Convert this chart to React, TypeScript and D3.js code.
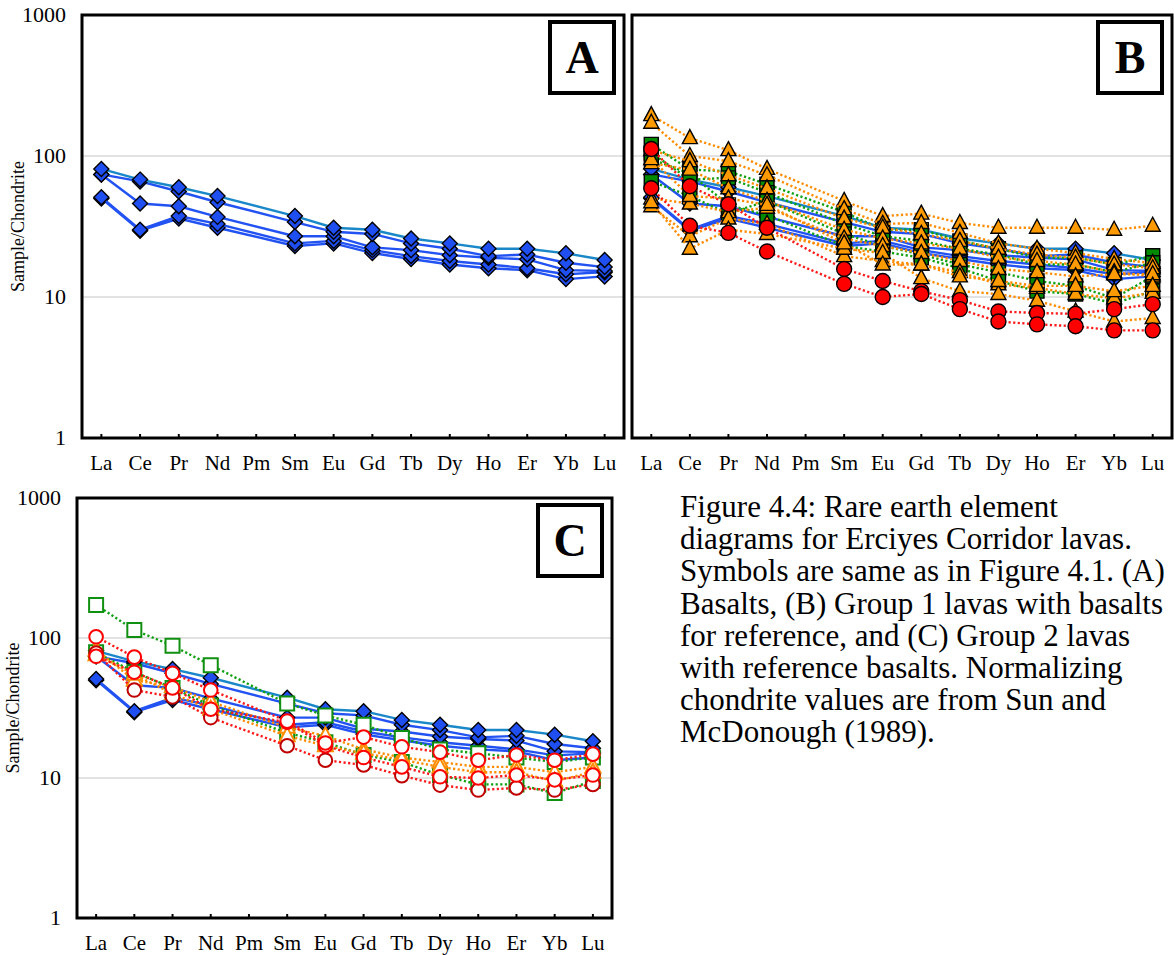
import React from "react";
import * as d3 from "d3";

// Rare earth elements, chondrite-normalised (Sun & McDonough 1989)
const ELEMENTS = ["La", "Ce", "Pr", "Nd", "Pm", "Sm", "Eu", "Gd", "Tb", "Dy", "Ho", "Er", "Yb", "Lu"];
const Y_TICKS = [1, 10, 100, 1000];

// Basalts (reference group, shown in every panel)
const basalt1 = [81, 68, 60, 52, null, 37.5, 31, 30, 26, 24, 22, 22, 20.4, 18.3];
const basalt2 = [74, 66, 56, 47, null, 34, 29, 28, 24, 22, 19.5, 20, 17.5, 16.3];
const basalt3 = [74, 46, 44, 37, null, 27, 27, 22.5, 21.5, 19.8, 19, 18.5, 15.5, 15.3];
const basalt4 = [51, 30, 37.5, 33, null, 24, 25, 21.5, 19.5, 18, 17, 16, 14.5, 15];
const basalt5 = [50, 29.5, 36, 31, null, 23, 24, 20.5, 18.6, 17, 16, 15.5, 13.4, 14];

// Group 1 lavas
const g1Green1 = [121, 80, 78, 63, null, 40, 30, 30, 25, 22, 19, 19, 17, 19.6];
const g1Green2 = [105, 68, 70, 55, null, 33, 27, 25, 22, 20, 17, 17, 15, 17.5];
const g1Green3 = [66, 52, 39, 48, null, 28, 23, 20, 17, 15, 13, 12, 9.8, 14];
const g1Green4 = [95, 75, 45, 38, null, 23, 21, 19, 16, 13, 11, 10.5, 9, 11];
const g1Orange1 = [195, 134, 110, 81, null, 48, 37.5, 39, 33.5, 31, 31, 31, 30, 32];
const g1Orange2 = [172, 100, 92, 73, null, 42, 33, 33.5, 28.5, 24, 22, 20.5, 18.6, 17.4];
const g1Orange3 = [110, 92, 73, 59, null, 36, 31, 28, 25, 22, 20, 19, 17, 16];
const g1Orange4 = [89, 80, 59, 48, null, 30, 26, 24, 22, 19, 18, 17, 15, 14];
const g1Orange5 = [50, 46, 40, 43, null, 26, 23, 20.5, 18, 15.8, 15, 14, 14.5, 14.5];
const g1Orange6 = [44, 27, 36, 33, null, 19.5, 18, 17, 15, 12.3, 11.6, 10.5, 9.8, 10.7];
const g1Orange7 = [47, 22, 30, 28, null, 22, 20.5, 13.6, 11, 10.5, 9.4, 7.9, 6.7, 7.1];
const g1Orange8 = [95, 52, 50, 45, null, 24, 17, 17, 14, 13, 12, 12, 11, 12];
const g1Red1 = [112, 61, 45.5, 31, null, 15.8, 13, 11, 9.5, 7.9, 7.7, 7.6, 8.2, 8.9];
const g1Red2 = [59, 32, 28.5, 21, null, 12.4, 10, 10.5, 8.2, 6.7, 6.4, 6.2, 5.8, 5.8];

// Group 2 lavas
const g2Green1 = [172, 114, 88, 64, null, 34, 28, 24, 19.3, 16, 15, 14, 13, 14];
const g2Green2 = [79, 57, 44, 33, null, 21, 18, 14.6, 13, 10.5, 9, 9, 7.8, 9.5];
const g2Orange1 = [82, 50, 45, 35, null, 23, 20, 16, 14, 13, 12, 12, 11, 12];
const g2Orange2 = [76, 55, 40, 31, null, 20, 17, 15, 13.5, 12, 11, 11, 9.5, 11];
const g2Red1 = [102, 73, 56, 42.5, null, 25.5, 17.8, 19.6, 16.7, 15.3, 13.4, 14.6, 13.4, 14.8];
const g2Red2 = [74, 57, 44, 31, null, 25, 17, 14, 12, 10.2, 10, 10.5, 9.7, 10.5];
const g2Red3 = [78, 42.5, 38, 27, null, 17, 13.4, 12.4, 10.4, 8.9, 8.2, 8.5, 8.2, 9];

const CAPTION = [
  "Figure 4.4: Rare earth element",
  "diagrams for Erciyes Corridor lavas.",
  "Symbols are same as in Figure 4.1. (A)",
  "Basalts, (B) Group 1 lavas with basalts",
  "for reference, and (C) Group 2 lavas",
  "with reference basalts. Normalizing",
  "chondrite values are from Sun and",
  "McDonough (1989).",
];

type Marker = "diamond" | "triangle" | "square" | "circle";
interface Series {
  values: (number | null)[];
  marker: Marker;
  fill: string;
  stroke: string;
  strokeWidth: number;
  line: string;
  dotted: boolean;
}

const BLUE = "#1f4ff0";
const BLUE_LINE = "#2252f2";
const TEAL_LINE = "#1a88c8";
const ORANGE = "#ff9a00";
const ORANGE_LINE = "#ff8c00";
const GREEN = "#008a00";
const GREEN_LINE = "#10a010";
const RED = "#ff0000";
const RED_LINE = "#ff1a1a";

const basaltSeries: Series[] = [basalt5, basalt4, basalt3, basalt2, basalt1].map((v) => ({
  values: v,
  marker: "diamond",
  fill: BLUE,
  stroke: "#000",
  strokeWidth: 1.4,
  line: v === basalt1 ? TEAL_LINE : BLUE_LINE,
  dotted: false,
}));

const filled = (values: (number | null)[], marker: Marker, fill: string, line: string): Series => ({
  values, marker, fill, stroke: "#000", strokeWidth: 1.4, line, dotted: true,
});
const open = (values: (number | null)[], marker: Marker, stroke: string, line: string): Series => ({
  values, marker, fill: "#fff", stroke, strokeWidth: 2, line, dotted: true,
});

const group1Series: Series[] = [
  ...basaltSeries,
  ...[g1Green1, g1Green2, g1Green3, g1Green4].map((v) => filled(v, "square", GREEN, GREEN_LINE)),
  ...[g1Orange1, g1Orange2, g1Orange3, g1Orange4, g1Orange5, g1Orange6, g1Orange7, g1Orange8].map((v) =>
    filled(v, "triangle", ORANGE, ORANGE_LINE)
  ),
  ...[g1Red1, g1Red2].map((v) => filled(v, "circle", RED, RED_LINE)),
];

const group2Series: Series[] = [
  ...basaltSeries,
  ...[g2Green1, g2Green2].map((v) => open(v, "square", "#109010", GREEN_LINE)),
  ...[g2Orange1, g2Orange2].map((v) => open(v, "triangle", ORANGE_LINE, ORANGE_LINE)),
  open(g2Red3, "circle", "#c00000", RED_LINE),
  open(g2Red2, "circle", RED, RED_LINE),
  open(g2Red1, "circle", RED, RED_LINE),
];

function markerPath(m: Marker): string {
  switch (m) {
    case "diamond":
      return "M0,-7.5L7.5,0L0,7.5L-7.5,0Z";
    case "triangle":
      return "M0,-8.5L7.5,5.5L-7.5,5.5Z";
    case "square":
      return "M-7,-7H7V7H-7Z";
    default:
      return "";
  }
}

interface PanelProps {
  x: number;
  y: number;
  w: number;
  h: number;
  letter: string;
  series: Series[];
  yLabels: boolean;
}

const FONT = "'Liberation Serif', 'Times New Roman', serif";

function Panel({ x, y, w, h, letter, series, yLabels }: PanelProps) {
  const xs = d3.scaleBand<string>().domain(ELEMENTS).range([x, x + w]);
  const ys = d3.scaleLog().domain([1, 1000]).range([y + h, y]);
  const cx = (e: string) => (xs(e) as number) + xs.bandwidth() / 2;
  const lineGen = d3
    .line<[string, number]>()
    .x((d) => cx(d[0]))
    .y((d) => ys(d[1]));

  return (
    <g>
      {/* gridlines */}
      {[10, 100].map((t) => (
        <line key={t} x1={x} x2={x + w} y1={ys(t)} y2={ys(t)} stroke="#d9d9d9" strokeWidth={1.5} />
      ))}
      {/* series */}
      {series.map((s, i) => {
        const pts = s.values
          .map((v, j) => [ELEMENTS[j], v] as [string, number | null])
          .filter((d) => d[1] != null) as [string, number][];
        return (
          <g key={i}>
            <path
              d={lineGen(pts) || ""}
              fill="none"
              stroke={s.line}
              strokeWidth={2.4}
              strokeDasharray={s.dotted ? "2.2 2.4" : undefined}
            />
            {pts.map((p, k) =>
              s.marker === "circle" ? (
                <circle key={k} cx={cx(p[0])} cy={ys(p[1])} r={s.strokeWidth > 1.5 ? 6.8 : 7.5} fill={s.fill} stroke={s.stroke} strokeWidth={s.strokeWidth} />
              ) : (
                <path
                  key={k}
                  d={markerPath(s.marker)}
                  transform={`translate(${cx(p[0])},${ys(p[1])})`}
                  fill={s.fill}
                  stroke={s.stroke}
                  strokeWidth={s.strokeWidth}
                  strokeLinejoin="miter"
                />
              )
            )}
          </g>
        );
      })}
      {/* frame */}
      <rect x={x} y={y} width={w} height={h} fill="none" stroke="#000" strokeWidth={3} />
      {/* category ticks */}
      {ELEMENTS.map((e) => (
        <line key={e} x1={cx(e)} x2={cx(e)} y1={y + h} y2={y + h - 4} stroke="#000" strokeWidth={2} />
      ))}
      {/* category labels */}
      {ELEMENTS.map((e) => (
        <text key={e} x={cx(e)} y={y + h + 32} textAnchor="middle" fontFamily={FONT} fontSize={21} fill="#000">
          {e}
        </text>
      ))}
      {yLabels &&
        Y_TICKS.map((t) => (
          <text
            key={t}
            x={x - 16}
            y={ys(t) + 7}
            textAnchor="end"
            fontFamily={FONT}
            fontSize={22}
            fill="#000"
          >
            {t}
          </text>
        ))}
      {yLabels && (
        <text
          transform={`translate(${x - 58},${y + h / 2}) rotate(-90)`}
          textAnchor="middle"
          fontFamily={FONT}
          fontSize={18}
          fill="#000"
        >
          Sample/Chondrite
        </text>
      )}
      {/* panel letter */}
      <rect x={x + w - 74} y={y + 7} width={64} height={71} fill="#fff" stroke="#000" strokeWidth={4} />
      <text
        x={x + w - 42}
        y={y + 58}
        textAnchor="middle"
        fontFamily={FONT}
        fontWeight="bold"
        fontSize={46}
        fill="#000"
      >
        {letter}
      </text>
    </g>
  );
}

export default function App() {
  return (
    <svg
      width={1174}
      height={955}
      viewBox="0 0 1174 955"
      style={{ position: "absolute", left: 0, top: 0, background: "#fff" }}
    >
      <rect width={1174} height={955} fill="#fff" />
      <Panel x={82} y={15} w={542} h={423} letter="A" series={basaltSeries} yLabels />
      <Panel x={632} y={15} w={540} h={423} letter="B" series={group1Series} yLabels={false} />
      <Panel x={77} y={498} w={535} h={420} letter="C" series={group2Series} yLabels />
      {CAPTION.map((line, i) => (
        <text key={i} x={680} y={517 + i * 32.2} fontFamily={FONT} fontSize={31} fill="#000">
          {line}
        </text>
      ))}
    </svg>
  );
}
